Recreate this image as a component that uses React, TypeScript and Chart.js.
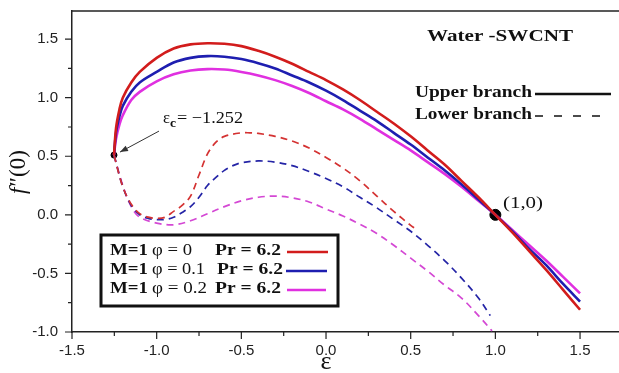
import React, { useEffect, useRef } from "react";
import { Chart, registerables } from "chart.js";

Chart.register(...registerables);

// ---------- data ----------
const upperEps = [-1.252, -1.24, -1.22, -1.2, -1.15, -1.1, -1.0, -0.9, -0.8, -0.7, -0.6, -0.5, -0.4, -0.3, -0.2, -0.1, 0, 0.1, 0.2, 0.3, 0.4, 0.5, 0.6, 0.7, 0.8, 0.9, 1.0, 1.1, 1.2, 1.3, 1.4, 1.5];
const upperPhi0 = [0.51, 0.74, 0.9, 1.0, 1.13, 1.22, 1.34, 1.42, 1.455, 1.465, 1.46, 1.44, 1.4, 1.35, 1.29, 1.22, 1.15, 1.07, 0.98, 0.88, 0.78, 0.67, 0.55, 0.43, 0.29, 0.15, 0.0, -0.15, -0.31, -0.47, -0.64, -0.81];
const upperPhi01 = [0.51, 0.7, 0.84, 0.93, 1.05, 1.13, 1.22, 1.3, 1.34, 1.355, 1.35, 1.33, 1.295, 1.25, 1.19, 1.13, 1.06, 0.98, 0.89, 0.8, 0.7, 0.6, 0.49, 0.38, 0.26, 0.13, 0.0, -0.14, -0.29, -0.43, -0.59, -0.74];
const upperPhi02 = [0.51, 0.65, 0.77, 0.85, 0.98, 1.05, 1.14, 1.2, 1.232, 1.244, 1.24, 1.22, 1.19, 1.15, 1.1, 1.04, 0.97, 0.9, 0.82, 0.73, 0.64, 0.55, 0.45, 0.35, 0.24, 0.12, 0.0, -0.13, -0.26, -0.39, -0.53, -0.67];

const lowerEpsPhi0 = [-1.252, -1.2, -1.15, -1.1, -1.05, -1.0, -0.95, -0.9, -0.85, -0.8, -0.75, -0.7, -0.65, -0.6, -0.5, -0.45, -0.4, -0.3, -0.2, -0.1, 0, 0.1, 0.2, 0.3, 0.4, 0.5, 0.52];
const lowerPhi0 = [0.51, 0.24, 0.09, 0.01, -0.02, -0.03, -0.02, 0.03, 0.08, 0.16, 0.34, 0.52, 0.62, 0.67, 0.7, 0.7, 0.695, 0.67, 0.63, 0.57, 0.49, 0.4, 0.29, 0.16, 0.03, -0.09, -0.11];

const lowerEpsPhi01 = [-1.252, -1.2, -1.15, -1.1, -1.05, -1.0, -0.95, -0.9, -0.85, -0.8, -0.75, -0.7, -0.65, -0.6, -0.55, -0.5, -0.4, -0.3, -0.2, -0.1, 0, 0.1, 0.2, 0.3, 0.4, 0.5, 0.6, 0.7, 0.8, 0.9, 0.97];
const lowerPhi01 = [0.51, 0.24, 0.08, 0.0, -0.03, -0.04, -0.04, -0.02, 0.02, 0.07, 0.15, 0.25, 0.32, 0.38, 0.42, 0.445, 0.46, 0.45, 0.42, 0.37, 0.31, 0.24, 0.15, 0.06, -0.04, -0.14, -0.26, -0.39, -0.54, -0.71, -0.86];

const lowerEpsPhi02 = [-1.252, -1.2, -1.15, -1.1, -1.0, -0.9, -0.8, -0.7, -0.6, -0.5, -0.4, -0.3, -0.2, -0.1, 0, 0.1, 0.2, 0.3, 0.4, 0.5, 0.6, 0.7, 0.8, 0.9, 0.98];
const lowerPhi02 = [0.51, 0.25, 0.07, -0.02, -0.07, -0.085, -0.05, 0.01, 0.07, 0.12, 0.15, 0.16, 0.145, 0.11, 0.05, -0.01, -0.08, -0.16, -0.26, -0.37, -0.48, -0.6, -0.71, -0.86, -0.99];

const markerEps = [-1.252, 1.0];
const markerF = [0.51, 0.0];

const xTickValues = [-1.5, -1.25, -1.0, -0.75, -0.5, -0.25, 0, 0.25, 0.5, 0.75, 1.0, 1.25, 1.5];
const yTickValues = [-1.0, -0.75, -0.5, -0.25, 0, 0.25, 0.5, 0.75, 1.0, 1.25, 1.5];

const seriesLabels = ["M=1 \u03c6 = 0 Pr = 6.2", "M=1 \u03c6 = 0.1 Pr = 6.2", "M=1 \u03c6 = 0.2 Pr = 6.2"];
const phiTexts = ["\u03c6 = 0", "\u03c6 = 0.1", "\u03c6 = 0.2"];

const RED = "#d21c1c";
const BLUE = "#1e1eb0";
const MAGENTA = "#e030e0";
const RED_D = "#d43232";
const BLUE_D = "#2424a6";
const MAGENTA_D = "#d448d4";

const zip = (xs: number[], ys: number[]) => xs.map((x, i) => ({ x, y: ys[i] }));

const SERIF = "'Liberation Serif', 'Times New Roman', serif";
const SANS = "'Liberation Sans', Arial, sans-serif";

function drawFit(ctx: CanvasRenderingContext2D, text: string, font: string, left: number, right: number, cy: number, color = "#111") {
  ctx.save();
  ctx.font = font;
  ctx.fillStyle = color;
  ctx.textBaseline = "middle";
  ctx.textAlign = "left";
  const w = ctx.measureText(text).width;
  const sx = (right - left) / w;
  ctx.translate(left, cy);
  ctx.scale(sx, 1);
  ctx.fillText(text, 0, 0);
  ctx.restore();
}

const isMult = (v: number, step: number) => Math.abs(v / step - Math.round(v / step)) < 1e-6;

const overlay = {
  id: "overlay",
  afterDraw(chart: any) {
    const { ctx, chartArea, scales } = chart;
    const xs = scales.x;
    const ys = scales.y;
    ctx.save();
    // top frame line
    ctx.strokeStyle = "#222";
    ctx.lineWidth = 1.5;
    ctx.beginPath();
    ctx.moveTo(chartArea.left, chartArea.top);
    ctx.lineTo(chartArea.right, chartArea.top);
    ctx.stroke();
    // ticks (outward, major/minor)
    ctx.lineWidth = 1.2;
    ctx.strokeStyle = "#222";
    ctx.beginPath();
    xs.ticks.forEach((t: any) => {
      const px = xs.getPixelForValue(t.value);
      const len = isMult(t.value, 0.5) ? 7 : 4;
      ctx.moveTo(px, chartArea.bottom);
      ctx.lineTo(px, chartArea.bottom + len);
    });
    ys.ticks.forEach((t: any) => {
      const py = ys.getPixelForValue(t.value);
      const len = isMult(t.value, 0.5) ? 7 : 4;
      ctx.moveTo(chartArea.left, py);
      ctx.lineTo(chartArea.left - len, py);
    });
    ctx.stroke();

    // axis titles
    ctx.fillStyle = "#111";
    ctx.textBaseline = "middle";
    ctx.textAlign = "center";
    ctx.font = `26px ${SERIF}`;
    ctx.fillText("\u03b5", xs.getPixelForValue(0), 362);

    ctx.save();
    ctx.translate(19, 172);
    ctx.rotate(-Math.PI / 2);
    ctx.textAlign = "left";
    ctx.font = `italic 23px ${SERIF}`;
    const fW = ctx.measureText("f").width;
    ctx.font = `23px ${SERIF}`;
    const restW = ctx.measureText("\u2033(0)").width;
    const total = fW + restW + 1;
    ctx.font = `italic 23px ${SERIF}`;
    ctx.fillText("f", -total / 2, 0);
    ctx.font = `23px ${SERIF}`;
    ctx.fillText("\u2033(0)", -total / 2 + fW + 1, 0);
    ctx.restore();

    // title
    drawFit(ctx, "Water -SWCNT", `bold 17px ${SERIF}`, 427, 573, 37);

    // branch legend
    drawFit(ctx, "Upper branch", `bold 17px ${SERIF}`, 415, 532, 93);
    drawFit(ctx, "Lower branch", `bold 17px ${SERIF}`, 415, 532, 115);
    ctx.strokeStyle = "#111";
    ctx.lineWidth = 2.6;
    ctx.beginPath();
    ctx.moveTo(535, 94);
    ctx.lineTo(611, 94);
    ctx.stroke();
    ctx.lineWidth = 1.5;
    ctx.setLineDash([8, 11]);
    ctx.beginPath();
    ctx.moveTo(535, 116);
    ctx.lineTo(611, 116);
    ctx.stroke();
    ctx.setLineDash([]);

    // series legend box
    ctx.lineWidth = 3;
    ctx.strokeStyle = "#111";
    ctx.strokeRect(101, 235, 237, 71);
    const rowsY = [251, 270, 289];
    const phiRight = [192, 205, 207];
    const prLeft = [215, 217, 215];
    const lineX = [[287, 328], [286, 327], [287, 326]];
    const cols = [RED, BLUE, MAGENTA];
    rowsY.forEach((y, i) => {
      drawFit(ctx, "M=1", `bold 17px ${SERIF}`, 110, 148, y);
      drawFit(ctx, phiTexts[i], `17px ${SERIF}`, 152, phiRight[i], y);
      drawFit(ctx, "Pr = 6.2", `bold 17px ${SERIF}`, prLeft[i], prLeft[i] + 66, y);
      ctx.strokeStyle = cols[i];
      ctx.lineWidth = 2.6;
      ctx.beginPath();
      ctx.moveTo(lineX[i][0], y + 1);
      ctx.lineTo(lineX[i][1], y + 1);
      ctx.stroke();
    });

    // critical point annotation
    const cx = xs.getPixelForValue(markerEps[0]);
    const cy = ys.getPixelForValue(markerF[0]);
    drawFit(ctx, "\u03b5", `17px ${SERIF}`, 163, 170, 119);
    drawFit(ctx, "c", `bold 12px ${SERIF}`, 170, 176, 124);
    drawFit(ctx, "= \u22121.252", `17px ${SERIF}`, 177, 243, 119);
    const ax0 = cx + 45, ay0 = cy - 24;
    const ax1 = cx + 6, ay1 = cy - 3;
    ctx.strokeStyle = "#333";
    ctx.fillStyle = "#333";
    ctx.lineWidth = 1;
    ctx.beginPath();
    ctx.moveTo(ax0, ay0);
    ctx.lineTo(ax1, ay1);
    ctx.stroke();
    const ang = Math.atan2(ay1 - ay0, ax1 - ax0);
    ctx.beginPath();
    ctx.moveTo(ax1, ay1);
    ctx.lineTo(ax1 - 8 * Math.cos(ang) + 3 * Math.sin(ang), ay1 - 8 * Math.sin(ang) - 3 * Math.cos(ang));
    ctx.lineTo(ax1 - 8 * Math.cos(ang) - 3 * Math.sin(ang), ay1 - 8 * Math.sin(ang) + 3 * Math.cos(ang));
    ctx.closePath();
    ctx.fill();

    // (1,0) label
    drawFit(ctx, "(1,0)", `17px ${SERIF}`, 503, 543, 204);
    ctx.restore();
  },
};

export default function App() {
  const ref = useRef<HTMLCanvasElement | null>(null);
  useEffect(() => {
    document.body.style.margin = "0";
    if (!ref.current) return;
    const solid = (label: string, xs: number[], ys: number[], color: string) => ({
      label,
      data: zip(xs, ys),
      borderColor: color,
      backgroundColor: color,
      borderWidth: 2.6,
      pointRadius: 0,
      showLine: true,
      fill: false,
      tension: 0.35,
    });
    const dashed = (label: string, xs: number[], ys: number[], color: string) => ({
      label,
      data: zip(xs, ys),
      borderColor: color,
      backgroundColor: color,
      borderWidth: 1.7,
      borderDash: [7, 5],
      pointRadius: 0,
      showLine: true,
      fill: false,
      tension: 0.35,
    });
    const chart = new Chart(ref.current, {
      type: "line",
      data: {
        datasets: [
          dashed(seriesLabels[0] + " lower", lowerEpsPhi0, lowerPhi0, RED_D),
          dashed(seriesLabels[1] + " lower", lowerEpsPhi01, lowerPhi01, BLUE_D),
          dashed(seriesLabels[2] + " lower", lowerEpsPhi02, lowerPhi02, MAGENTA_D),
          solid(seriesLabels[0], upperEps, upperPhi0, RED),
          solid(seriesLabels[1], upperEps, upperPhi01, BLUE),
          solid(seriesLabels[2], upperEps, upperPhi02, MAGENTA),
          {
            label: "markers",
            data: zip(markerEps, markerF),
            showLine: false,
            pointRadius: [3, 5.5],
            pointBackgroundColor: "#000",
            pointBorderColor: "#000",
            borderColor: "#000",
            backgroundColor: "#000",
          } as any,
        ],
      },
      options: {
        responsive: false,
        animation: false,
        layout: { autoPadding: false, padding: { top: 11, right: 0, left: 0, bottom: 0 } },
        plugins: { legend: { display: false }, tooltip: { enabled: false } },
        scales: {
          x: {
            type: "linear",
            min: -1.5,
            max: 1.73,
            afterBuildTicks: (s: any) => {
              s.ticks = xTickValues.map((v) => ({ value: v }));
            },
            afterFit: (s: any) => {
              s.height = 41;
              s.paddingLeft = 0;
              s.paddingRight = 0;
            },
            ticks: {
              autoSkip: false,
              maxRotation: 0,
              padding: 2,
              color: "#222",
              font: { family: SANS, size: 15 },
              callback: (v: any) => (isMult(Number(v), 0.5) ? Number(v).toFixed(1) : ""),
            },
            grid: { display: true, drawOnChartArea: false, drawTicks: true, tickLength: 8, color: "rgba(0,0,0,0)" },
            border: { display: true, color: "#222", width: 1.5 },
          },
          y: {
            type: "linear",
            min: -1.0,
            max: 1.74,
            afterBuildTicks: (s: any) => {
              s.ticks = yTickValues.map((v) => ({ value: v }));
            },
            afterFit: (s: any) => {
              s.width = 72;
              s.paddingTop = 0;
              s.paddingBottom = 0;
            },
            ticks: {
              autoSkip: false,
              padding: 6,
              color: "#222",
              font: { family: SANS, size: 15 },
              callback: (v: any) => (isMult(Number(v), 0.5) ? Number(v).toFixed(1) : ""),
            },
            grid: { display: true, drawOnChartArea: false, drawTicks: true, tickLength: 8, color: "rgba(0,0,0,0)" },
            border: { display: true, color: "#222", width: 1.5 },
          },
        },
      },
      plugins: [overlay],
    });
    return () => chart.destroy();
  }, []);
  return (
    <div style={{ position: "absolute", left: 0, top: 0, width: 619, height: 373, background: "#fff" }}>
      <canvas ref={ref} width={619} height={373} style={{ display: "block" }} />
    </div>
  );
}
